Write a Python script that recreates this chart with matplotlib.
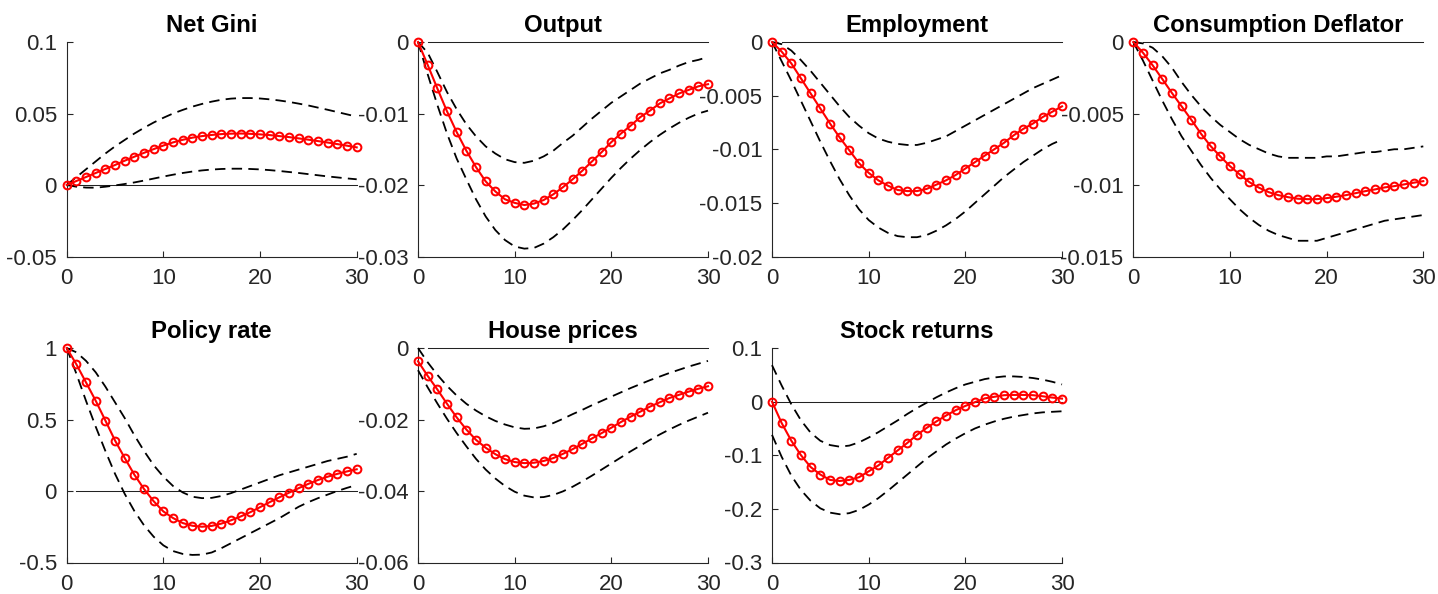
import numpy as np
import matplotlib
matplotlib.use("Agg")
import matplotlib.pyplot as plt

plt.rcParams['font.family'] = ['Liberation Sans', 'DejaVu Sans']
plt.rcParams['axes.unicode_minus'] = False
plt.rcParams['lines.scale_dashes'] = False

horizon = list(range(31))

titles = ["Net Gini", "Output", "Employment", "Consumption Deflator",
          "Policy rate", "House prices", "Stock returns"]

gini_irf = [0, 0.0028, 0.0056, 0.0084, 0.0112, 0.0140, 0.0170, 0.0198, 0.0225, 0.0251, 0.0276,
            0.0298, 0.0316, 0.0331, 0.0342, 0.0350, 0.0356, 0.0359, 0.0360, 0.0358, 0.0354,
            0.0349, 0.0342, 0.0335, 0.0326, 0.0317, 0.0307, 0.0297, 0.0286, 0.0275, 0.0263]
gini_hi = [0, 0.0055, 0.011, 0.0165, 0.022, 0.027, 0.0315, 0.036, 0.040, 0.0437, 0.047,
           0.050, 0.0525, 0.0548, 0.0567, 0.0583, 0.0596, 0.0604, 0.0608, 0.0608, 0.0605,
           0.0599, 0.0591, 0.0581, 0.0569, 0.0556, 0.0541, 0.0526, 0.0510, 0.0494, 0.0478]
gini_lo = [0, -0.0012, -0.0018, -0.0019, -0.0012, -0.0003, 0.0007, 0.0018, 0.0031, 0.0045, 0.0059,
           0.0072, 0.0084, 0.0094, 0.0102, 0.0108, 0.0112, 0.0114, 0.0114, 0.0112, 0.0109,
           0.0104, 0.0098, 0.0091, 0.0084, 0.0076, 0.0068, 0.0060, 0.0053, 0.0046, 0.0040]

output_irf = [0, -0.0032, -0.0065, -0.0097, -0.0126, -0.0152, -0.0175, -0.0195, -0.0209, -0.0220, -0.0225,
              -0.0228, -0.0226, -0.0221, -0.0213, -0.0203, -0.0192, -0.0180, -0.0167, -0.0154, -0.0140,
              -0.0128, -0.0117, -0.0105, -0.0096, -0.0086, -0.0079, -0.0072, -0.0067, -0.0062, -0.0059]
output_hi = [0, -0.0015, -0.0042, -0.0070, -0.0094, -0.0115, -0.0132, -0.0146, -0.0156, -0.0164, -0.0168,
             -0.0169, -0.0166, -0.0160, -0.0152, -0.0141, -0.0131, -0.0119, -0.0107, -0.0096, -0.0085,
             -0.0076, -0.0067, -0.0058, -0.0051, -0.0044, -0.0039, -0.0033, -0.0028, -0.0025, -0.0021]
output_lo = [0, -0.0045, -0.0088, -0.0128, -0.0163, -0.0192, -0.0220, -0.0244, -0.0263, -0.0277, -0.0286,
             -0.0289, -0.0288, -0.0282, -0.0273, -0.0262, -0.0249, -0.0235, -0.0220, -0.0205, -0.0190,
             -0.0176, -0.0163, -0.0151, -0.0140, -0.0130, -0.0121, -0.0113, -0.0106, -0.0100, -0.0096]

emp_irf = [0, -0.0009, -0.0020, -0.0034, -0.0048, -0.0062, -0.0076, -0.0089, -0.0101, -0.0113, -0.0122,
           -0.0129, -0.0134, -0.0138, -0.0139, -0.0139, -0.0137, -0.0133, -0.0129, -0.0124, -0.0118,
           -0.0112, -0.0106, -0.0100, -0.0094, -0.0087, -0.0081, -0.0076, -0.0070, -0.0065, -0.0060]
emp_hi = [0, -0.0002, -0.0008, -0.0017, -0.0027, -0.0038, -0.0049, -0.0060, -0.0070, -0.0078, -0.0085,
          -0.0090, -0.0093, -0.0095, -0.0096, -0.0096, -0.0094, -0.0091, -0.0088, -0.0083, -0.0078,
          -0.0073, -0.0068, -0.0063, -0.0058, -0.0053, -0.0048, -0.0043, -0.0039, -0.0035, -0.0031]
emp_lo = [0, -0.0018, -0.0036, -0.0055, -0.0074, -0.0093, -0.0111, -0.0128, -0.0143, -0.0156, -0.0166,
          -0.0173, -0.0178, -0.0181, -0.0182, -0.0182, -0.0180, -0.0176, -0.0171, -0.0165, -0.0158,
          -0.0150, -0.0142, -0.0134, -0.0126, -0.0119, -0.0112, -0.0106, -0.0100, -0.0095, -0.0091]

cons_irf = [0, -0.00075, -0.00163, -0.00259, -0.00357, -0.0045, -0.00544, -0.00641, -0.00728, -0.0080, -0.00868,
            -0.00926, -0.0098, -0.01019, -0.0105, -0.01071, -0.01085, -0.01096, -0.01099, -0.01099, -0.01092,
            -0.01082, -0.01071, -0.01057, -0.01043, -0.01031, -0.01017, -0.01008, -0.00996, -0.00984, -0.00973]
cons_hi = [0, -0.0001, -0.0004, -0.0010, -0.0018, -0.0028, -0.0037, -0.0045, -0.0052, -0.0058, -0.0063,
           -0.0068, -0.0072, -0.0075, -0.0078, -0.0080, -0.0081, -0.0081, -0.0081, -0.0081, -0.0080,
           -0.0080, -0.0079, -0.0078, -0.0077, -0.0077, -0.0076, -0.0075, -0.0075, -0.0074, -0.0073]
cons_lo = [0, -0.0013, -0.0027, -0.0041, -0.0054, -0.0066, -0.0076, -0.0086, -0.0095, -0.0103, -0.0110,
           -0.0117, -0.0123, -0.0128, -0.0132, -0.0135, -0.0137, -0.0139, -0.0139, -0.0139, -0.0137,
           -0.0135, -0.0133, -0.0131, -0.0129, -0.0127, -0.0125, -0.0124, -0.0123, -0.0122, -0.0121]

policy_irf = [1.0, 0.886, 0.759, 0.631, 0.493, 0.353, 0.231, 0.114, 0.014, -0.072, -0.143,
              -0.189, -0.224, -0.243, -0.250, -0.244, -0.228, -0.205, -0.178, -0.148, -0.113,
              -0.078, -0.044, -0.012, 0.020, 0.050, 0.077, 0.100, 0.120, 0.137, 0.152]
policy_hi = [1.0, 0.97, 0.91, 0.83, 0.73, 0.62, 0.51, 0.39, 0.28, 0.18, 0.10,
             0.035, -0.01, -0.04, -0.05, -0.048, -0.035, -0.015, 0.01, 0.035, 0.06,
             0.085, 0.11, 0.13, 0.15, 0.17, 0.19, 0.21, 0.225, 0.24, 0.26]
policy_lo = [1.0, 0.82, 0.63, 0.45, 0.28, 0.12, -0.02, -0.14, -0.24, -0.32, -0.38,
             -0.42, -0.44, -0.447, -0.445, -0.43, -0.40, -0.365, -0.33, -0.295, -0.26,
             -0.225, -0.19, -0.15, -0.11, -0.078, -0.05, -0.025, 0.0, 0.022, 0.042]

house_irf = [-0.0037, -0.0078, -0.0116, -0.0156, -0.0194, -0.0228, -0.0257, -0.0279, -0.0297, -0.0311, -0.0319,
             -0.0322, -0.0321, -0.0316, -0.0308, -0.0296, -0.0283, -0.0268, -0.0253, -0.0238, -0.0223,
             -0.0207, -0.0192, -0.0178, -0.0164, -0.0152, -0.0140, -0.0131, -0.0122, -0.0114, -0.0107]
house_hi = [0, -0.0040, -0.0075, -0.0106, -0.0133, -0.0156, -0.0175, -0.0191, -0.0204, -0.0214, -0.0222,
            -0.0226, -0.0225, -0.0219, -0.0210, -0.0198, -0.0185, -0.0173, -0.0160, -0.0148, -0.0136,
            -0.0124, -0.0112, -0.0101, -0.0090, -0.0080, -0.0070, -0.0061, -0.0052, -0.0044, -0.0036]
house_lo = [-0.0062, -0.0110, -0.0155, -0.0198, -0.0238, -0.0275, -0.0310, -0.0340, -0.0365, -0.0386, -0.0402,
            -0.0413, -0.0418, -0.0417, -0.0411, -0.0401, -0.0388, -0.0373, -0.0357, -0.0340, -0.0323,
            -0.0306, -0.0289, -0.0273, -0.0257, -0.0242, -0.0228, -0.0215, -0.0203, -0.0192, -0.0181]

stock_irf = [0, -0.040, -0.073, -0.100, -0.122, -0.136, -0.146, -0.148, -0.146, -0.141, -0.130,
             -0.119, -0.105, -0.091, -0.077, -0.062, -0.049, -0.037, -0.026, -0.016, -0.008,
             -0.001, 0.006, 0.009, 0.012, 0.0125, 0.0125, 0.012, 0.010, 0.0075, 0.0056]
stock_hi = [0.068, 0.030, -0.005, -0.035, -0.058, -0.073, -0.081, -0.084, -0.082, -0.076, -0.067,
            -0.057, -0.046, -0.035, -0.023, -0.012, -0.002, 0.008, 0.017, 0.025, 0.032,
            0.037, 0.042, 0.045, 0.047, 0.047, 0.046, 0.044, 0.041, 0.037, 0.032]
stock_lo = [-0.062, -0.103, -0.138, -0.165, -0.185, -0.199, -0.207, -0.210, -0.208, -0.202, -0.192,
            -0.180, -0.166, -0.151, -0.136, -0.121, -0.106, -0.093, -0.080, -0.069, -0.059,
            -0.050, -0.043, -0.037, -0.032, -0.028, -0.025, -0.022, -0.020, -0.019, -0.018]

ylims = [(-0.05, 0.1), (-0.03, 0.0), (-0.02, 0.0), (-0.015, 0.0),
         (-0.5, 1.0), (-0.06, 0.0), (-0.3, 0.1)]
yticks = [[-0.05, 0, 0.05, 0.1], [-0.03, -0.02, -0.01, 0], [-0.02, -0.015, -0.01, -0.005, 0],
          [-0.015, -0.01, -0.005, 0], [-0.5, 0, 0.5, 1], [-0.06, -0.04, -0.02, 0],
          [-0.3, -0.2, -0.1, 0, 0.1]]
yticklabels = [["-0.05", "0", "0.05", "0.1"], ["-0.03", "-0.02", "-0.01", "0"],
               ["-0.02", "-0.015", "-0.01", "-0.005", "0"], ["-0.015", "-0.01", "-0.005", "0"],
               ["-0.5", "0", "0.5", "1"], ["-0.06", "-0.04", "-0.02", "0"],
               ["-0.3", "-0.2", "-0.1", "0", "0.1"]]
xticks = [0, 10, 20, 30]
xticklabels = ["0", "10", "20", "30"]
zero_start = [0, 1, 1, 1, 1, 1, 0]

irfs = [gini_irf, output_irf, emp_irf, cons_irf, policy_irf, house_irf, stock_irf]
his = [gini_hi, output_hi, emp_hi, cons_hi, policy_hi, house_hi, stock_hi]
los = [gini_lo, output_lo, emp_lo, cons_lo, policy_lo, house_lo, stock_lo]

W, H = 1438, 594
fig = plt.figure(figsize=(W / 100, H / 100), dpi=100)

# pixel boxes (left, top) and size
lefts = [66.7, 418.0, 772.0, 1133.3, 66.7, 418.0, 772.0]
tops = [42.0, 42.0, 42.0, 42.0, 348.0, 348.0, 348.0]
pw, ph = 290.0, 214.5

axc = '#262626'
for i in range(7):
    l, t = lefts[i], tops[i]
    ax = fig.add_axes([l / W, 1 - (t + ph) / H, pw / W, ph / H])
    zx = horizon[zero_start[i]:]
    ax.plot(zx, [0] * len(zx), color='#222222', lw=0.75, clip_on=False, zorder=2)
    ax.plot(horizon, his[i], color='k', lw=1.3, ls=(0, (7.5, 4.5)), clip_on=False, zorder=3)
    ax.plot(horizon, los[i], color='k', lw=1.3, ls=(0, (7.5, 4.5)), clip_on=False, zorder=3)
    ax.plot(horizon, irfs[i], color='red', lw=1.5, marker='o', ms=5.6, mfc='none',
            mec='red', mew=1.45, clip_on=False, zorder=4)
    ax.set_xlim(0, 30)
    ax.set_ylim(*ylims[i])
    ax.set_xticks(xticks, xticklabels)
    ax.set_yticks(yticks[i], yticklabels[i])
    for s in ['top', 'right']:
        ax.spines[s].set_visible(False)
    for s in ['left', 'bottom']:
        ax.spines[s].set_color(axc)
        ax.spines[s].set_linewidth(0.8)
    ax.tick_params(direction='in', length=4, width=0.8, colors=axc, labelsize=16)
    ax.tick_params(axis='x', pad=8)
    ax.tick_params(axis='y', pad=7)
    ax.set_title(titles[i], fontsize=17.2, fontweight='bold', color='k', pad=7)

fig.savefig("out.png", dpi=100)
